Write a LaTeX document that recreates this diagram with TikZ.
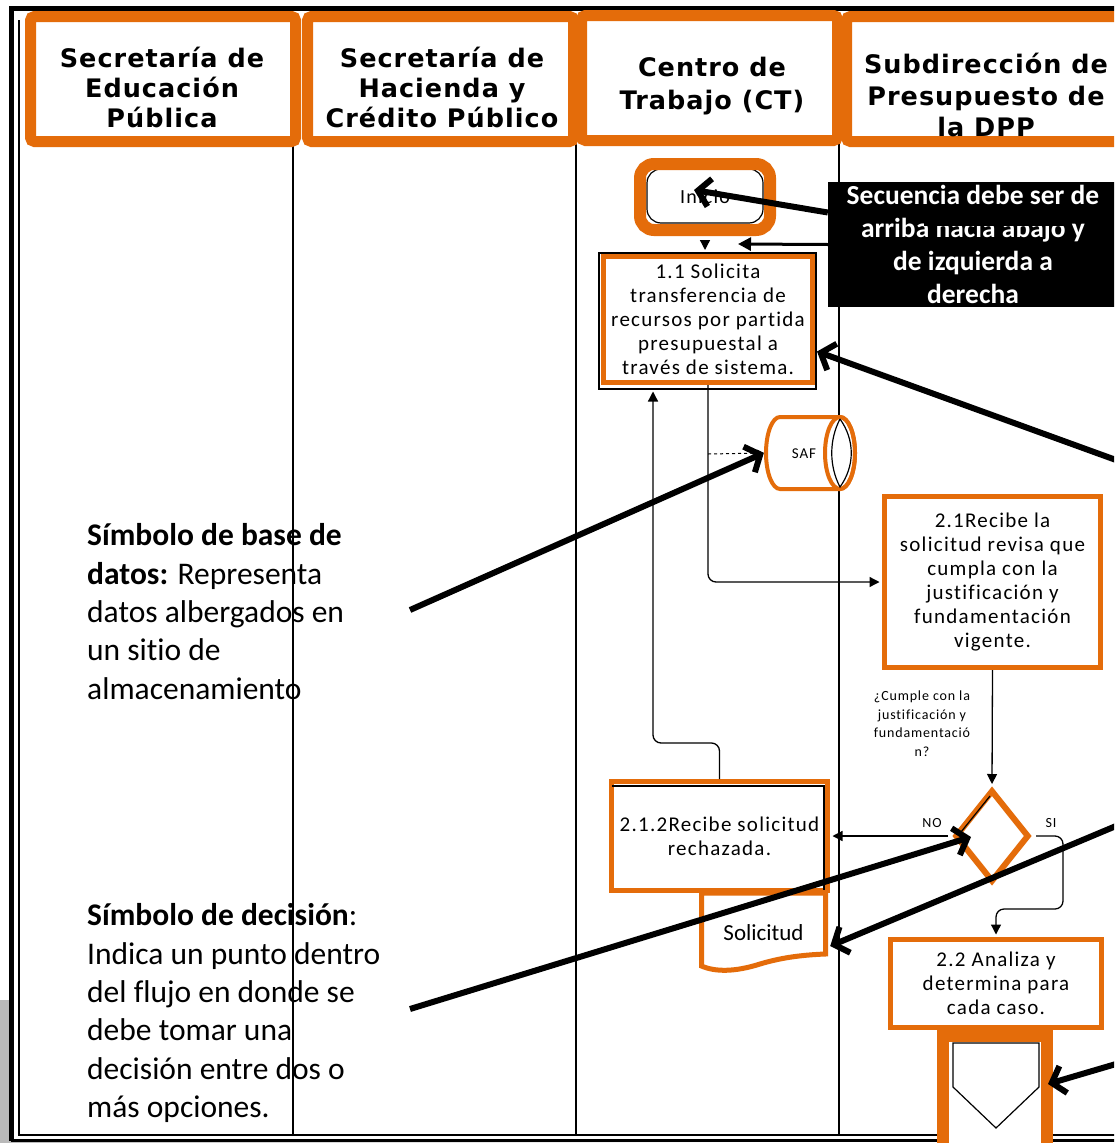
\documentclass[tikz,border=0pt]{standalone}
\usepackage{fontspec}
\setmainfont{Carlito}[Ligatures=NoCommon]
\newfontfamily\hfont{DejaVu Sans}[LetterSpace=4]
\newfontfamily\bxfont{Carlito}[LetterSpace=6,Ligatures=NoCommon]
\usetikzlibrary{shapes.geometric,arrows.meta,calc}
\definecolor{orng}{RGB}{228,108,10}
\definecolor{grayshd}{RGB}{185,185,185}
\begin{document}
\begin{tikzpicture}[x=1pt,y=-1pt,
  hdr/.style={draw=orng,line width=11pt,fill=white,rounded corners=4pt,minimum height=125pt,inner sep=0pt},
  hdrtext/.style={font=\hfont\bfseries\fontsize{25.5}{30}\selectfont,align=center,inner sep=0pt},
  obox/.style={draw=orng,line width=5pt,fill=white,inner sep=0pt,align=center,font=\bxfont\fontsize{21}{24}\selectfont},
  lane/.style={line width=1.2pt},
  flow/.style={line width=1.3pt,-{Triangle[length=10pt,width=10pt]},rounded corners=8pt},
  callarrow/.style={line width=6pt,-{Straight Barb[length=12pt,width=28pt]}},
  note/.style={font=\fontsize{31.5}{38.3}\selectfont,align=left,anchor=north west,inner sep=0pt},
  qlabel/.style={font=\bxfont\fontsize{14}{18.5}\selectfont,align=center,inner sep=0pt},
]
\useasboundingbox (0,0) rectangle (1114,1143);
\clip (0,0) rectangle (1114,1143);
\fill[white] (0,0) rectangle (1114,1143);
% shadow and frame
\fill[grayshd] (0,1000) rectangle (9,1143);
\shade[left color=grayshd,right color=white] (0,1140) rectangle (760,1143);
\draw[line width=5pt] (11,1141) -- (11,8) -- (1120,8);
\draw[line width=1.2pt] (19,20) -- (19,1135) -- (1120,1135);
\draw[line width=2.5pt] (11,1140.5) -- (1120,1140.5);
% lanes
\draw[lane] (293,140) -- (293,1135);
\draw[lane] (576,140) -- (576,1135);
\draw[lane] (839,140) -- (839,1135);
% headers
\node[hdr,minimum width=265pt] (h1) at (163,79) {};
\node[hdr,minimum width=266pt] (h2) at (440.5,79) {};
\node[hdr,minimum width=256pt] (h3) at (709.5,78) {};
\node[hdr,minimum width=280pt] (h4) at (986.5,79) {};
\node[hdrtext] (h1t) at (162,87) {Secretaría de\\Educación\\Pública};
\node[hdrtext] (h2t) at (442,87) {Secretaría de\\Hacienda y\\Crédito Público};
\node[hdrtext,font=\hfont\bfseries\fontsize{25.5}{33}\selectfont] (h3t) at (712,86.5) {Centro de\\Trabajo (CT)};
\node[hdrtext,font=\hfont\bfseries\fontsize{25.5}{31.5}\selectfont] (h4t) at (986,95) {Subdirección de\\Presupuesto de\\la DPP};
% Inicio
\draw[line width=1.2pt,fill=white,rounded corners=14pt] (647,169) rectangle (763,223);
\node[draw=orng,line width=12pt,rounded corners=14pt,minimum width=130pt,minimum height=66pt,inner sep=0pt,font=\bxfont\fontsize{20}{24}\selectfont] (ini) at (705,197) {Inicio};
% 1.1
\draw[line width=1.2pt] (599,253) rectangle (816,389);
\node[obox,minimum width=209pt,minimum height=126pt] (n11) at (708,319.5) {1.1 Solicita\\transferencia de\\recursos por partida\\presupuestal a\\través de sistema.};
% SAF
\node[minimum width=93pt,minimum height=76pt,inner sep=0pt] (saf) at (810.5,453) {};
\draw[orng,line width=4pt,fill=white] (780,417) -- (840,417) arc[start angle=-90,end angle=90,x radius=15,y radius=36] -- (780,489) arc[start angle=90,end angle=270,x radius=14,y radius=36] -- cycle;
\draw[orng,line width=4pt] (840,453) ellipse[x radius=15,y radius=36];
\draw[line width=1.2pt] (840,419) .. controls (829,440) and (829,466) .. (840,487) .. controls (855,466) and (855,440) .. (840,419);
\node[font=\bxfont\fontsize{15}{18}\selectfont,inner sep=0pt] (saft) at (804,454) {SAF};
% 2.1
\node[obox,minimum width=216pt,minimum height=171pt] (n21) at (992.5,582) {2.1Recibe la\\solicitud revisa que\\cumpla con la\\justificación y\\fundamentación\\vigente.};
% decision
\node[diamond,draw=orng,line width=6pt,fill=white,minimum width=74pt,minimum height=92pt,inner sep=0pt,aspect=0.8] (dia) at (992,836) {};
\draw[line width=1.2pt] (961,832) -- (990,796);
\node[qlabel] (q) at (922,723.5) {¿Cumple con la\\justificación y\\fundamentació\\n?};
\node[qlabel] (lno) at (932,823) {NO};
\node[qlabel] (lsi) at (1051,823) {SI};
% document
\draw[orng,line width=5pt,fill=white] (701.5,893) -- (825.5,893) -- (825.5,954) .. controls (800,955) and (780,958) .. (760,964) .. controls (735,972) and (715,972) .. (701.5,966) -- cycle;
\node[inner sep=0pt,minimum width=129pt,minimum height=78pt,font=\fontsize{23}{28}\selectfont] (doc) at (763.5,933) {Solicitud};
% 2.1.2
\node[obox,minimum width=216pt,minimum height=109pt] (n212) at (719.5,836) {2.1.2Recibe solicitud\\rechazada.};
\draw[line width=1.2pt] (612,786) -- (824,786) -- (824,890);
% off-page connector and 2.2
\node[draw=orng,line width=12pt,fill=white,minimum width=104pt,minimum height=124pt,inner sep=0pt] (off) at (995,1098) {};
\draw[line width=1.2pt] (953,1043) -- (1039,1043) -- (1039,1087) -- (996,1128) -- (953,1087) -- cycle;
\node[obox,minimum width=211pt,minimum height=88pt] (n22) at (996,983.5) {2.2 Analiza y\\determina para\\cada caso.};
% flow connectors
\draw[flow] ([yshift=-6pt]ini.south) -- ($(ini.south |- n11.north)+(0,-4)$);
\draw[flow] (n11.south) |- ($(n21.west)+(-2.5,0)$);
\coordinate (tap) at (708,454);
\draw[dashed,line width=1pt,-{Triangle[length=7pt,width=7pt]}] (tap) -- (saf.west);
\coordinate (ret) at (653,743);
\draw[flow] (n212.north) |- (ret) -- ($(ret |- n11.south)+(0,6.5)$);
\draw[flow] (n21.south) -- ($(dia.north)+(0,-3)$);
\draw[flow] ([xshift=-4pt]dia.west) -- ($(dia.west -| n212.east)+(2.5,0)$);
\coordinate (sib) at (1063,909);
\draw[flow] ([xshift=4pt]dia.east) -| (sib) -| ($(n22.north)+(0,-2.5)$);
% black label
\node[fill=black,text=white,minimum width=290pt,minimum height=125pt,inner sep=0pt,align=center,font=\bfseries\fontsize{27.5}{33}\selectfont] (seq) at (973,244.5) {Secuencia debe ser de\\arriba hacia abajo y\\de izquierda a\\derecha};
\fill[black] (924,214) rectangle (1070,226);
% annotation arrows
\coordinate (a1s) at ($(seq.west)+(0,-32)$);
\draw[callarrow] (a1s) -- ($(ini.center)+(-11,-7)$);
\coordinate (a2e) at (738,244);
\draw[line width=3pt,-{Triangle[length=13pt,width=13pt]}] (seq.west) -- (a2e);
\coordinate (b1s) at (410,610);
\draw[callarrow] (b1s) -- (saf.west);
\coordinate (b2s) at (1116,460);
\draw[callarrow] (b2s) -- ($(n11.east)+(2,32)$);
\coordinate (b3s) at (410,1009);
\draw[callarrow] (b3s) -- ($(dia.center)+(-21,1)$);
\coordinate (b4s) at (1116,826);
\draw[callarrow] (b4s) -- ($(doc.east)+(2,13)$);
\coordinate (b5s) at (1116,1064);
\draw[callarrow] (b5s) -- ($(off.east)+(-5,-14)$);
% notes
\node[note] (nt1) at (87,523.5) {\textbf{Símbolo de base de}\\\textbf{datos:} Representa\\datos albergados en\\un sitio de\\almacenamiento};
\node[note] (nt2) at (87,903.5) {\textbf{Símbolo de decisión}:\\Indica un punto dentro\\del flujo en donde se\\debe tomar una\\decisión entre dos o\\más opciones.};
\end{tikzpicture}
\end{document}
